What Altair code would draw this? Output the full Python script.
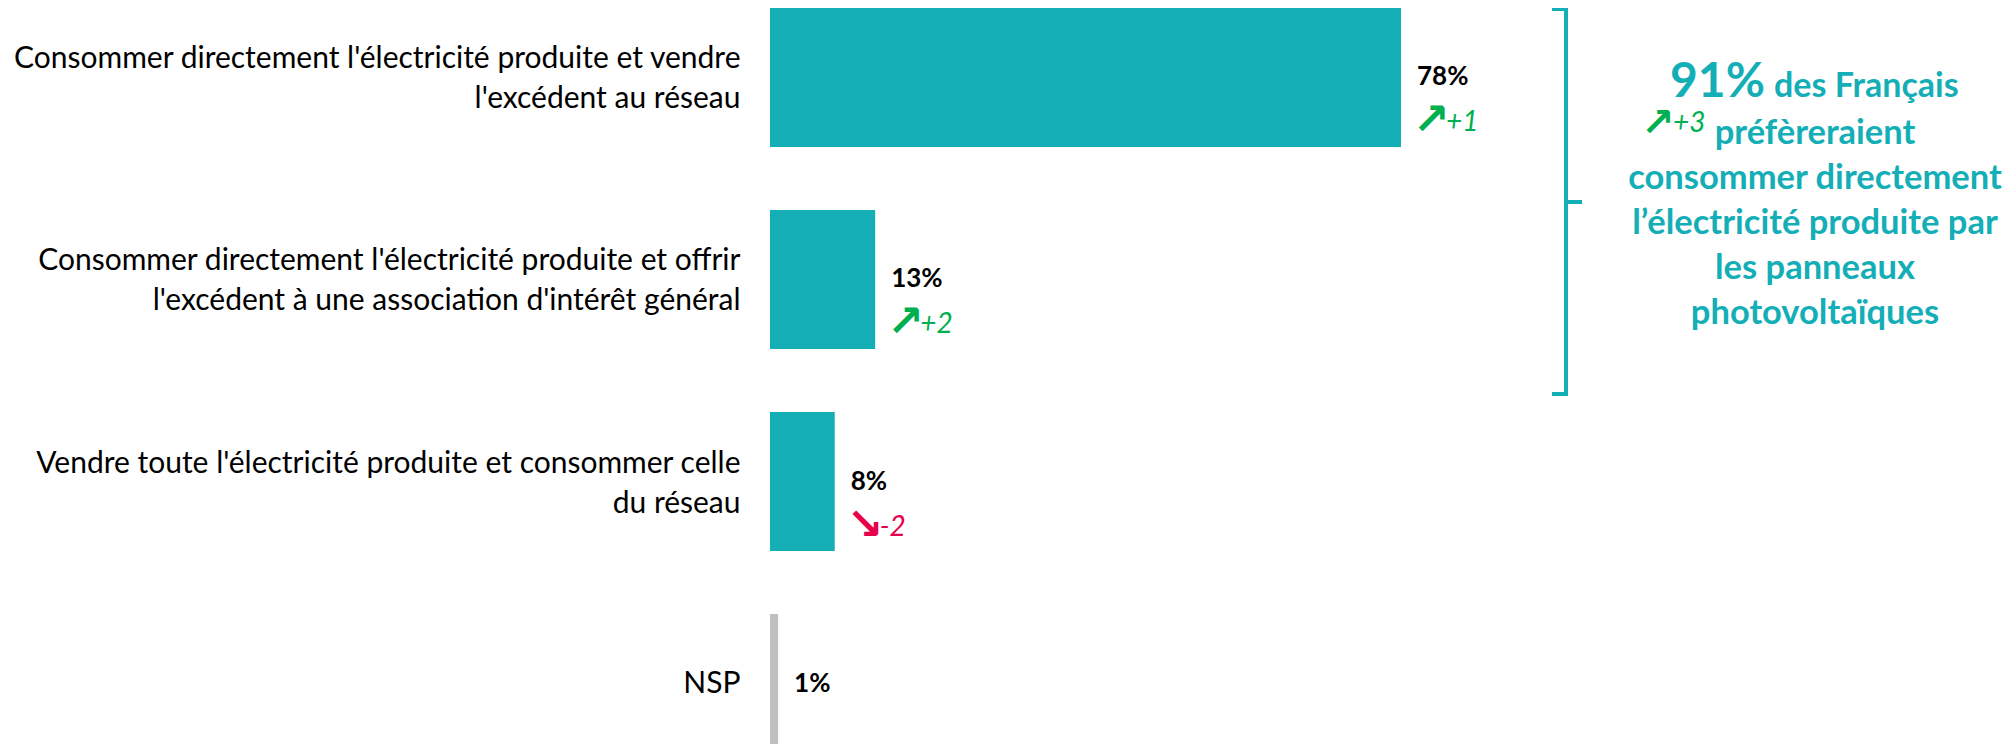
import altair as alt
import pandas as pd

# ---- data ----
categories = [
    "Consommer directement l'électricité produite et vendre\nl'excédent au réseau",
    "Consommer directement l'électricité produite et offrir\nl'excédent à une association d'intérêt général",
    "Vendre toute l'électricité produite et consommer celle\ndu réseau",
    "NSP",
]
values = [78, 13, 8, 1]
value_labels = ["78%", "13%", "8%", "1%"]
changes = ["+1", "+2", "-2", ""]

note_value = ["91%"]
note_first = ["des Français"]
note_change = ["+3"]
note_lines = [
    "préfèreraient",
    "consommer directement",
    "l’électricité produite par",
    "les panneaux",
    "photovoltaïques",
]

TEAL = "#14AEB7"
GREY = "#BFBFBF"
GREEN = "#00B050"
RED = "#E8004C"
FONT = "Lato"

df = pd.DataFrame({"cat": categories, "value": values, "label": value_labels, "change": changes})

y = alt.Y(
    "cat:N",
    sort=None,
    title=None,
    scale=alt.Scale(paddingInner=0.312, paddingOuter=0, range=[0, 745]),
    axis=alt.Axis(
        domain=False,
        ticks=False,
        labelExpr="split(datum.label, '\\n')",
        labelFont=FONT,
        labelFontSize=30,
        labelColor="#000000",
        labelLineHeight=40,
        labelPadding=30,
        labelLimit=1000,
        labelOffset={
            "condition": {"test": "indexof(datum.value, '\\n') >= 0", "value": -18},
            "value": 0,
        },
    ),
)
x = alt.X("value:Q", axis=None, scale=alt.Scale(domain=[0, 100]))

base = alt.Chart(df).encode(y=y)

bars = base.mark_bar().encode(
    x=x,
    color=alt.condition(alt.datum.cat == "NSP", alt.value(GREY), alt.value(TEAL)),
)

vals = base.mark_text(
    align="left", baseline="middle", dx=16, font=FONT, fontWeight="bold", fontSize=26, color="#000000"
).encode(x=x, text="label:N")

chg = base.transform_filter(alt.datum.change != "").transform_calculate(
    up="indexof(datum.change, '+') == 0",
    arrow="indexof(datum.change, '+') == 0 ? '↗' : '↘'",
)

arrows = chg.mark_text(
    align="left", baseline="middle", dx=12, dy=44, font="DejaVu Sans", fontWeight="bold", fontSize=44
).encode(
    x=x,
    text="arrow:N",
    color=alt.condition("datum.up", alt.value(GREEN), alt.value(RED)),
)

chg_txt = chg.mark_text(
    align="left", baseline="middle", dx=45, dy=46, font=FONT, fontStyle="italic", fontSize=28
).encode(
    x=x,
    text="change:N",
    color=alt.condition("datum.up", alt.value(GREEN), alt.value(RED)),
)

one = pd.DataFrame({"k": [0]})

def rule(x1, x2, y1, y2):
    return alt.Chart(one).mark_rule(color=TEAL, strokeWidth=4, strokeCap="square").encode(
        x=alt.value(x1), x2=alt.value(x2), y=alt.value(y1), y2=alt.value(y2)
    )

bracket = [
    rule(796, 796, 1, 386),
    rule(784, 796, 1, 1),
    rule(784, 796, 386, 386),
    rule(796, 810, 194, 194),
]

big = alt.Chart(pd.DataFrame({"t": note_value})).mark_text(
    align="right", baseline="alphabetic", font=FONT, fontWeight="bold", fontSize=48, color=TEAL
).encode(x=alt.value(995), y=alt.value(89), text="t:N")

first = alt.Chart(pd.DataFrame({"t": note_first})).mark_text(
    align="left", baseline="alphabetic", font=FONT, fontWeight="bold", fontSize=34, color=TEAL
).encode(x=alt.value(1004), y=alt.value(89), text="t:N")

note_arrow = alt.Chart(pd.DataFrame({"t": ["↗"]})).mark_text(
    align="left", baseline="middle", font="DejaVu Sans", fontWeight="bold", fontSize=40, color=GREEN
).encode(x=alt.value(871), y=alt.value(116), text="t:N")

note_chg = alt.Chart(pd.DataFrame({"t": note_change})).mark_text(
    align="left", baseline="middle", font=FONT, fontStyle="italic", fontSize=28, color=GREEN
).encode(x=alt.value(903), y=alt.value(116), text="t:N")

rest = alt.Chart(one).mark_text(
    text=note_lines, align="center", baseline="alphabetic", lineHeight=45,
    font=FONT, fontWeight="bold", fontSize=34.5, color=TEAL
).encode(x=alt.value(1045), y=alt.value(136))

chart = alt.layer(
    bars, vals, arrows, chg_txt, *bracket, big, first, note_arrow, note_chg, rest
).properties(
    width=809,
    height=736,
    autosize=alt.AutoSizeParams(type="none"),
    padding={"left": 762, "top": 0, "right": 429, "bottom": 0},
).configure_view(stroke=None)

chart.save("out.html", embed_options={"renderer": "svg", "actions": False})
